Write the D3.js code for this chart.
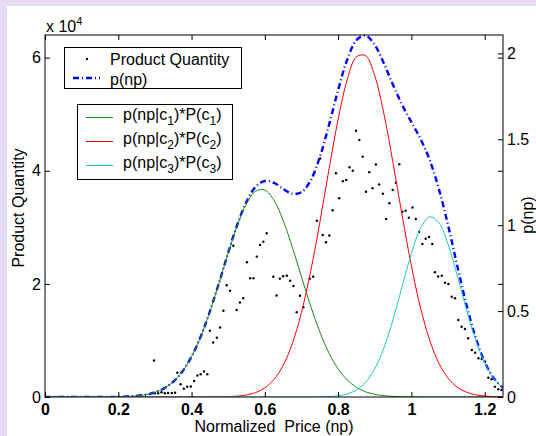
<!DOCTYPE html>
<html>
<head>
<meta charset="utf-8">
<script src="https://cdn.jsdelivr.net/npm/d3@7"></script>
<style>
  html, body { margin: 0; padding: 0; background: #e7dbf3; }
  svg { display: block; font-family: "Liberation Sans", Arial, Helvetica, sans-serif; }
</style>
</head>
<body>
<div id="chart"></div>
<script>
// tick values
const xTicks      = [0, 0.2, 0.4, 0.6, 0.8, 1, 1.2];
const yLeftTicks  = [0, 20000, 40000, 60000];
const yRightTicks = [0, 0.5, 1, 1.5, 2];

// sample grid for the curves (normalized price)
const priceGrid = [0, 0.025, 0.05, 0.075, 0.1, 0.125, 0.15, 0.175, 0.2, 0.225,
  0.25, 0.275, 0.3, 0.325, 0.35, 0.375, 0.4, 0.425, 0.45, 0.475,
  0.5, 0.525, 0.55, 0.575, 0.6, 0.625, 0.65, 0.675, 0.7, 0.725,
  0.75, 0.775, 0.8, 0.825, 0.85, 0.875, 0.9, 0.925, 0.95, 0.975,
  1, 1.025, 1.05, 1.075, 1.1, 1.125, 1.15, 1.175, 1.2, 1.225, 1.25];

// p(np) and the three weighted components
const pnp = [0, 0, 0, 0, 0, 0, 0.0002, 0.0005, 0.0012, 0.0029,
  0.0064, 0.0134, 0.0267, 0.0501, 0.0888, 0.1487, 0.2354, 0.3521, 0.4978, 0.6648,
  0.840, 1.004, 1.1368, 1.2238, 1.2575, 1.2467, 1.2117, 1.183, 1.192, 1.2607,
  1.3958, 1.5827, 1.7865, 1.9644, 2.0771, 2.1033, 2.0492, 1.9415, 1.8154, 1.6995,
  1.5996, 1.5012, 1.3788, 1.2114, 1.000, 0.7656, 0.5392, 0.3475, 0.2042, 0.1092, 0.0531];

const compC1 = [0, 0, 0, 0, 0, 0, 0.0002, 0.0005, 0.0012, 0.0029,
  0.0064, 0.0134, 0.0267, 0.0501, 0.0888, 0.1487, 0.2354, 0.352, 0.4975, 0.664,
  0.838, 0.999, 1.125, 1.198, 1.2045, 1.1447, 1.0277, 0.872, 0.699, 0.5295,
  0.379, 0.2563, 0.1637, 0.0989, 0.0564, 0.0304, 0.0155, 0.0075, 0.0034, 0.0015,
  0.0006, 0.0002, 0.0001, 0, 0, 0, 0, 0, 0, 0, 0];

const compC2 = [0, 0, 0, 0, 0, 0, 0, 0, 0, 0,
  0, 0, 0, 0, 0, 0, 0, 0.0001, 0.0003, 0.0008,
  0.002, 0.005, 0.0118, 0.0258, 0.053, 0.102, 0.184, 0.311, 0.493, 0.731,
  1.016, 1.324, 1.616, 1.848, 1.980, 1.987, 1.869, 1.648, 1.361, 1.053,
  0.763, 0.518, 0.330, 0.197, 0.110, 0.0576, 0.0282, 0.013, 0.0056, 0.0023, 0.0009];

const compC3 = [0, 0, 0, 0, 0, 0, 0, 0, 0, 0,
  0, 0, 0, 0, 0, 0, 0, 0, 0, 0,
  0, 0, 0, 0, 0, 0, 0, 0, 0, 0.0002,
  0.0008, 0.0024, 0.0068, 0.0175, 0.0407, 0.0859, 0.1647, 0.286, 0.451, 0.645,
  0.836, 0.983, 1.0487, 1.0144, 0.890, 0.708, 0.511, 0.3345, 0.1986, 0.1069, 0.0522];

// observed product quantity (left axis)
const dotPrice = [0.2975, 0.300, 0.309, 0.318, 0.327, 0.336, 0.346, 0.355, 0.361, 0.370,
  0.379, 0.388, 0.398, 0.407, 0.416, 0.425, 0.434, 0.443, 0.450, 0.459,
  0.469, 0.478, 0.487, 0.496, 0.505, 0.514, 0.523, 0.532, 0.541, 0.551,
  0.560, 0.569, 0.578, 0.587, 0.596, 0.605, 0.623, 0.632, 0.641, 0.650,
  0.660, 0.669, 0.678, 0.687, 0.696, 0.705, 0.723, 0.732, 0.742, 0.751,
  0.758, 0.767, 0.776, 0.785, 0.794, 0.803, 0.813, 0.822, 0.831, 0.840,
  0.849, 0.858, 0.867, 0.876, 0.885, 0.894, 0.903, 0.912, 0.922, 0.931,
  0.940, 0.949, 0.958, 0.967, 0.975, 0.984, 0.993, 1.003, 1.012, 1.021,
  1.030, 1.039, 1.048, 1.057, 1.064, 1.073, 1.083, 1.092, 1.101, 1.110,
  1.119, 1.128, 1.137, 1.146, 1.155, 1.165, 1.174, 1.183, 1.192, 1.201,
  1.210, 1.219, 1.228, 1.237, 1.246];

const dotQty = [6450, 650, 650, 830, 650, 710, 710, 760, 4300, 2250,
  1470, 1820, 1860, 2830, 3800, 4030, 4510, 4010, 11720, 9640,
  10480, 12290, 15260, 19750, 18790, 26750, 15380, 16710, 17450, 23820,
  20990, 20990, 24810, 26870, 27460, 28940, 21270, 17950, 20920, 21340,
  21430, 20560, 19630, 14980, 17910, 15860, 20920, 21270, 31170, 42170,
  28640, 27350, 28550, 33010, 39570, 35150, 38140, 38370, 40610, 40010,
  47080, 45440, 42490, 36300, 39750, 36900, 41110, 37570, 35940, 31470,
  34250, 36600, 37890, 41140, 32760, 32940, 31700, 33500, 31470, 29170,
  27050, 27990, 28290, 27050, 22050, 21300, 21450, 20210, 19980, 17730,
  17450, 13610, 12430, 12020, 10380, 8310, 7830, 6840, 6720, 6240,
  3410, 3130, 1820, 1360, 1240];

const compLabels = [['1', '1'], ['2', '2'], ['3', '3']];

// ---------------------------------------------------------------------------

const W = 536, H = 436;
const plot = { left: 45, right: 503, top: 35, bottom: 397 };
const colors = { pnp: '#0000ff', c1: '#1a8a1a', c2: '#ff0000', c3: '#1ec8c8' };

const x = d3.scaleLinear().domain([0, 1.25]).range([plot.left, plot.right]);
const yL = d3.scaleLinear().domain([0, 64000]).range([plot.bottom, plot.top]);
const yR = d3.scaleLinear().domain([0, 2.107]).range([plot.bottom, plot.top]);

const svg = d3.select('#chart').append('svg')
    .attr('width', W)
    .attr('height', H);

svg.append('rect').attr('width', W).attr('height', H).attr('fill', '#e7dbf3');
svg.append('rect').attr('x', 7).attr('y', 6)
    .attr('width', W - 7).attr('height', H - 6).attr('fill', '#fff');

svg.append('clipPath').attr('id', 'clip')
  .append('rect')
    .attr('x', plot.left).attr('y', plot.top - 2)
    .attr('width', plot.right - plot.left).attr('height', plot.bottom - plot.top + 2);

const marks = svg.append('g').attr('clip-path', 'url(#clip)');

// scatter of observed quantity
marks.append('g')
  .selectAll('circle')
  .data(dotPrice.map((p, i) => ({ p, q: dotQty[i] })))
  .join('circle')
    .attr('cx', d => x(d.p))
    .attr('cy', d => yL(d.q))
    .attr('r', 1.2)
    .attr('fill', '#000');

const line = d3.line()
    .x((d, i) => x(priceGrid[i]))
    .y(d => yR(d))
    .curve(d3.curveCatmullRom);

marks.append('path')
    .datum(pnp)
    .attr('d', line)
    .attr('fill', 'none')
    .attr('stroke', colors.pnp)
    .attr('stroke-width', 2.4)
    .attr('stroke-dasharray', '6,3,1,3');

[[compC1, colors.c1], [compC2, colors.c2], [compC3, colors.c3]].forEach(([vals, col]) => {
  marks.append('path')
      .datum(vals)
      .attr('d', line)
      .attr('fill', 'none')
      .attr('stroke', col)
      .attr('stroke-width', 1);
});

// axes: inward ticks on all four sides
const fmtX = d3.format('~g');

const axX = svg.append('g')
    .attr('transform', `translate(0,${plot.bottom})`)
    .call(d3.axisBottom(x).tickValues(xTicks).tickFormat(fmtX)
      .tickSizeInner(-5).tickSizeOuter(0).tickPadding(7));
axX.selectAll('text').attr('font-size', 16).attr('font-weight', 'bold');

svg.append('g')
    .attr('transform', `translate(0,${plot.top})`)
    .call(d3.axisTop(x).tickValues(xTicks).tickFormat('')
      .tickSizeInner(-5).tickSizeOuter(0));

const axL = svg.append('g')
    .attr('transform', `translate(${plot.left},0)`)
    .call(d3.axisLeft(yL).tickValues(yLeftTicks).tickFormat(d => d / 10000)
      .tickSizeInner(-5).tickSizeOuter(0).tickPadding(4));
axL.selectAll('text').attr('font-size', 16);

svg.append('g')
    .attr('transform', `translate(${plot.right},0)`)
    .call(d3.axisRight(yL).tickValues(yLeftTicks).tickFormat('')
      .tickSizeInner(-5).tickSizeOuter(0));

const axR = svg.append('g')
    .attr('transform', `translate(${plot.right},0)`)
    .call(d3.axisRight(yR).tickValues(yRightTicks).tickFormat(fmtX)
      .tickSizeInner(-5).tickSizeOuter(0).tickPadding(4));
axR.selectAll('text').attr('font-size', 16);

svg.selectAll('.domain').remove();
svg.selectAll('.tick line').attr('stroke', '#000');
svg.selectAll('.tick text').attr('fill', '#000');

svg.append('rect')
    .attr('x', plot.left).attr('y', plot.top)
    .attr('width', plot.right - plot.left).attr('height', plot.bottom - plot.top)
    .attr('fill', 'none').attr('stroke', '#000');

// labels
svg.append('text')
    .attr('x', (plot.left + plot.right) / 2).attr('y', 432)
    .attr('text-anchor', 'middle').attr('font-size', 16)
    .attr('xml:space', 'preserve')
    .text('Normalized  Price (np)');

svg.append('text')
    .attr('transform', `translate(24,${(plot.top + plot.bottom) / 2 - 8}) rotate(-90)`)
    .attr('text-anchor', 'middle').attr('font-size', 16)
    .text('Product Quantity');

svg.append('text')
    .attr('transform', `translate(533,${(plot.top + plot.bottom) / 2 - 1}) rotate(-90)`)
    .attr('text-anchor', 'middle').attr('font-size', 16)
    .text('p(np)');

const expo = svg.append('text').attr('x', 46).attr('y', 31.5).attr('font-size', 16);
expo.append('tspan').text('x 10');
expo.append('tspan').attr('font-size', 11).attr('dy', -7).text('4');

// legend 1
const lg1 = svg.append('g');
lg1.append('rect').attr('x', 64.5).attr('y', 47.5).attr('width', 177).attr('height', 41)
    .attr('fill', '#fff').attr('stroke', '#000');
lg1.append('circle').attr('cx', 87).attr('cy', 59).attr('r', 1.2).attr('fill', '#000');
lg1.append('text').attr('x', 110).attr('y', 64.5).attr('font-size', 16).text('Product Quantity');
lg1.append('line').attr('x1', 73).attr('x2', 100).attr('y1', 78).attr('y2', 78)
    .attr('stroke', colors.pnp).attr('stroke-width', 2.4).attr('stroke-dasharray', '6,3,1,3');
lg1.append('text').attr('x', 110).attr('y', 84.5).attr('font-size', 16).text('p(np)');

// legend 2
const lg2 = svg.append('g');
lg2.append('rect').attr('x', 77.5).attr('y', 104.5).attr('width', 155).attr('height', 75)
    .attr('fill', '#fff').attr('stroke', '#000');
[colors.c1, colors.c2, colors.c3].forEach((col, i) => {
  const ly = 117.5 + i * 24;
  lg2.append('line').attr('x1', 86).attr('x2', 113).attr('y1', ly).attr('y2', ly)
      .attr('stroke', col).attr('stroke-width', 1);
  const t = lg2.append('text').attr('x', 123).attr('y', ly + 2).attr('font-size', 16);
  t.append('tspan').text('p(np|c');
  t.append('tspan').attr('font-size', 12).attr('dy', 5).text(compLabels[i][0]);
  t.append('tspan').attr('dy', -5).text(')*P(c');
  t.append('tspan').attr('font-size', 12).attr('dy', 5).text(compLabels[i][1]);
  t.append('tspan').attr('dy', -5).text(')');
});
</script>
</body>
</html>
